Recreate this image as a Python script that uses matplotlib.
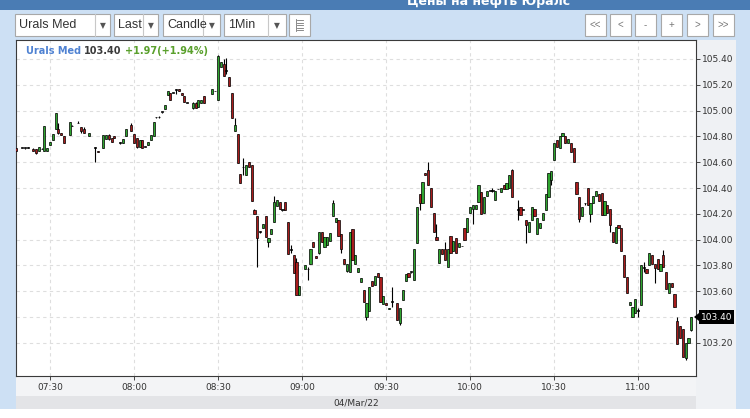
import matplotlib
matplotlib.use("Agg")
import matplotlib.pyplot as plt
from matplotlib.patches import Rectangle, Polygon

W, H = 750, 418

# one-minute candles, Urals Med, 04/Mar/22
times = [
    "07:18", "07:20", "07:21", "07:22", "07:24", "07:25", "07:26", "07:27", "07:28", "07:29",
    "07:30", "07:31", "07:32", "07:33", "07:34", "07:35", "07:37", "07:38", "07:40", "07:41",
    "07:42", "07:44", "07:46", "07:47", "07:49", "07:50", "07:51", "07:52", "07:53", "07:55",
    "07:56", "07:57", "07:59", "08:00", "08:01", "08:02", "08:03", "08:04", "08:05", "08:06",
    "08:07", "08:08", "08:09", "08:10", "08:11", "08:12", "08:13", "08:14", "08:15", "08:16",
    "08:17", "08:18", "08:19", "08:21", "08:22", "08:23", "08:24", "08:25", "08:28", "08:29",
    "08:30", "08:31", "08:32", "08:33", "08:34", "08:35", "08:36", "08:37", "08:38", "08:39",
    "08:40", "08:41", "08:42", "08:43", "08:44", "08:45", "08:46", "08:47", "08:48", "08:49",
    "08:50", "08:51", "08:52", "08:53", "08:54", "08:55", "08:56", "08:57", "08:58", "08:59",
    "09:01", "09:02", "09:03", "09:04", "09:05", "09:06", "09:07", "09:08", "09:09", "09:10",
    "09:11", "09:12", "09:13", "09:14", "09:15", "09:16", "09:17", "09:18", "09:19", "09:20",
    "09:21", "09:22", "09:23", "09:24", "09:25", "09:26", "09:27", "09:28", "09:29", "09:30",
    "09:31", "09:32", "09:34", "09:35", "09:36", "09:37", "09:38", "09:39", "09:40", "09:41",
    "09:42", "09:43", "09:44", "09:45", "09:46", "09:47", "09:48", "09:49", "09:50", "09:51",
    "09:52", "09:53", "09:54", "09:55", "09:56", "09:57", "09:58", "09:59", "10:00", "10:01",
    "10:02", "10:03", "10:04", "10:05", "10:06", "10:07", "10:08", "10:09", "10:10", "10:11",
    "10:12", "10:13", "10:14", "10:15", "10:17", "10:18", "10:19", "10:20", "10:21", "10:22",
    "10:23", "10:24", "10:25", "10:26", "10:27", "10:28", "10:29", "10:30", "10:31", "10:32",
    "10:33", "10:34", "10:35", "10:36", "10:37", "10:38", "10:39", "10:40", "10:41", "10:42",
    "10:43", "10:44", "10:45", "10:46", "10:47", "10:48", "10:49", "10:50", "10:51", "10:52",
    "10:53", "10:54", "10:55", "10:56", "10:57", "10:58", "10:59", "11:00", "11:01", "11:02",
    "11:03", "11:04", "11:05", "11:06", "11:07", "11:08", "11:09", "11:10", "11:11", "11:12",
    "11:13", "11:14", "11:15", "11:16", "11:17", "11:18", "11:19",
]
opens = [
    104.71, 104.71, 104.71, 104.71, 104.70, 104.70, 104.69, 104.70, 104.69, 104.69,
    104.73, 104.77, 104.86, 104.86, 104.83, 104.80, 104.81, 104.88, 104.90, 104.87,
    104.86, 104.80, 104.71, 104.69, 104.71, 104.78, 104.81, 104.79, 104.80, 104.75,
    104.75, 104.80, 104.89, 104.82, 104.79, 104.72, 104.77, 104.72, 104.73, 104.77,
    104.80, 104.95, 104.95, 104.99, 105.01, 105.12, 105.14, 105.14, 105.16, 105.17,
    105.14, 105.11, 105.06, 105.02, 105.06, 105.03, 105.06, 105.11, 105.13, 105.15,
    105.08, 105.34, 105.36, 105.31, 105.26, 105.14, 104.84, 104.82, 104.51, 104.56,
    104.50, 104.60, 104.58, 104.23, 104.18, 104.06, 104.09, 104.18, 103.98, 104.04,
    104.14, 104.26, 104.29, 104.23, 104.29, 104.14, 103.92, 103.88, 103.83, 103.57,
    103.77, 103.77, 103.81, 103.98, 103.87, 103.90, 104.06, 103.94, 103.96, 103.99,
    104.18, 104.14, 104.15, 104.04, 103.85, 103.76, 103.75, 104.08, 103.81, 103.75,
    103.67, 103.61, 103.40, 103.45, 103.68, 103.65, 103.74, 103.71, 103.50, 103.51,
    103.46, 103.52, 103.51, 103.35, 103.53, 103.68, 103.74, 103.75, 103.69, 103.97,
    104.35, 104.28, 104.52, 104.54, 104.40, 104.21, 104.02, 103.82, 103.93, 103.93,
    103.79, 104.03, 103.91, 104.01, 103.94, 103.95, 104.09, 104.06, 104.21, 104.24,
    104.24, 104.29, 104.37, 104.21, 104.34, 104.38, 104.38, 104.31, 104.39, 104.37,
    104.42, 104.39, 104.40, 104.54, 104.23, 104.25, 104.23, 104.15, 104.06, 104.15,
    104.24, 104.04, 104.09, 104.15, 104.23, 104.33, 104.46, 104.62, 104.77, 104.71,
    104.80, 104.80, 104.75, 104.75, 104.71, 104.45, 104.33, 104.18, 104.28, 104.40,
    104.20, 104.28, 104.34, 104.35, 104.36, 104.19, 104.27, 104.24, 104.06, 103.97,
    104.11, 104.09, 103.88, 103.71, 103.49, 103.40, 103.43, 103.45, 103.49, 103.78,
    103.77, 103.80, 103.88, 103.81, 103.85, 103.76, 103.88, 103.75, 103.59, 103.66,
    103.58, 103.37, 103.33, 103.31, 103.08, 103.20, 103.30,
]
highs = [
    104.71, 104.71, 104.71, 104.72, 104.71, 104.70, 104.72, 104.71, 104.88, 104.71,
    104.76, 104.82, 104.98, 104.90, 104.83, 104.80, 104.91, 104.89, 104.92, 104.87,
    104.87, 104.83, 104.72, 104.69, 104.81, 104.81, 104.82, 104.79, 104.80, 104.76,
    104.78, 104.86, 104.90, 104.82, 104.79, 104.77, 104.77, 104.72, 104.76, 104.81,
    104.91, 104.95, 104.96, 104.99, 105.04, 105.15, 105.14, 105.14, 105.17, 105.17,
    105.14, 105.11, 105.06, 105.07, 105.07, 105.08, 105.08, 105.11, 105.17, 105.15,
    105.43, 105.38, 105.40, 105.41, 105.26, 105.14, 104.94, 104.82, 104.51, 104.63,
    104.58, 104.60, 104.58, 104.24, 104.18, 104.07, 104.12, 104.18, 104.01, 104.08,
    104.34, 104.31, 104.29, 104.23, 104.29, 104.14, 103.96, 103.88, 103.86, 103.64,
    103.80, 103.79, 103.93, 103.98, 103.87, 104.06, 104.06, 104.02, 104.02, 104.05,
    104.31, 104.17, 104.15, 104.04, 103.85, 103.81, 104.06, 104.08, 103.88, 103.78,
    103.70, 103.61, 103.51, 103.63, 103.68, 103.72, 103.74, 103.71, 103.56, 103.51,
    103.47, 103.63, 103.51, 103.47, 103.61, 103.73, 103.74, 103.75, 103.93, 104.25,
    104.35, 104.45, 104.52, 104.60, 104.40, 104.21, 104.12, 103.93, 103.93, 103.98,
    103.93, 104.03, 103.99, 104.01, 103.97, 103.95, 104.09, 104.17, 104.25, 104.27,
    104.27, 104.42, 104.37, 104.33, 104.38, 104.38, 104.40, 104.38, 104.39, 104.40,
    104.42, 104.44, 104.50, 104.55, 104.31, 104.25, 104.23, 104.15, 104.14, 104.25,
    104.24, 104.17, 104.13, 104.21, 104.35, 104.52, 104.53, 104.75, 104.77, 104.80,
    104.83, 104.80, 104.78, 104.75, 104.71, 104.45, 104.33, 104.25, 104.28, 104.40,
    104.28, 104.34, 104.38, 104.35, 104.36, 104.30, 104.27, 104.24, 104.06, 104.10,
    104.11, 104.09, 103.88, 103.71, 103.52, 103.48, 103.54, 103.47, 103.80, 103.83,
    103.77, 103.90, 103.88, 103.81, 103.85, 103.81, 103.92, 103.75, 103.66, 103.66,
    103.58, 103.40, 103.33, 103.31, 103.20, 103.24, 103.40,
]
lows = [
    104.69, 104.71, 104.70, 104.71, 104.69, 104.66, 104.69, 104.70, 104.69, 104.69,
    104.73, 104.77, 104.86, 104.82, 104.81, 104.75, 104.81, 104.88, 104.90, 104.83,
    104.83, 104.80, 104.60, 104.68, 104.71, 104.78, 104.77, 104.76, 104.79, 104.74,
    104.75, 104.80, 104.84, 104.75, 104.71, 104.72, 104.71, 104.72, 104.73, 104.77,
    104.80, 104.94, 104.94, 104.98, 105.01, 105.12, 105.08, 105.14, 105.13, 105.15,
    105.12, 105.07, 105.06, 105.01, 105.02, 105.03, 105.06, 105.06, 105.13, 105.15,
    105.08, 105.34, 105.27, 105.28, 105.19, 104.94, 104.84, 104.59, 104.44, 104.50,
    104.50, 104.56, 104.30, 104.20, 103.79, 104.05, 104.09, 104.02, 103.94, 104.04,
    104.14, 104.26, 104.24, 104.22, 104.23, 103.89, 103.90, 103.74, 103.57, 103.57,
    103.77, 103.69, 103.81, 103.94, 103.86, 103.89, 103.98, 103.94, 103.96, 103.99,
    104.18, 104.14, 104.03, 103.90, 103.81, 103.75, 103.75, 103.84, 103.81, 103.75,
    103.67, 103.52, 103.38, 103.45, 103.64, 103.65, 103.71, 103.52, 103.50, 103.49,
    103.46, 103.48, 103.38, 103.34, 103.53, 103.68, 103.71, 103.74, 103.69, 103.97,
    104.23, 104.28, 104.50, 104.42, 104.25, 104.06, 104.00, 103.82, 103.89, 103.84,
    103.79, 103.90, 103.91, 103.90, 103.94, 103.95, 104.00, 104.06, 104.21, 104.12,
    104.24, 104.29, 104.20, 104.21, 104.34, 104.38, 104.37, 104.31, 104.39, 104.37,
    104.39, 104.39, 104.40, 104.33, 104.15, 104.19, 104.23, 103.97, 104.06, 104.15,
    104.18, 104.04, 104.09, 104.15, 104.23, 104.33, 104.42, 104.62, 104.72, 104.71,
    104.80, 104.75, 104.75, 104.68, 104.60, 104.35, 104.14, 104.18, 104.27, 104.27,
    104.14, 104.28, 104.34, 104.30, 104.19, 104.19, 104.21, 104.06, 103.98, 103.97,
    104.09, 103.91, 103.71, 103.59, 103.49, 103.40, 103.43, 103.40, 103.49, 103.75,
    103.74, 103.80, 103.81, 103.66, 103.77, 103.76, 103.79, 103.62, 103.59, 103.63,
    103.48, 103.19, 103.24, 103.09, 103.07, 103.20, 103.29,
]
closes = [
    104.69, 104.71, 104.71, 104.71, 104.69, 104.67, 104.72, 104.70, 104.88, 104.71,
    104.76, 104.82, 104.98, 104.83, 104.81, 104.75, 104.91, 104.88, 104.90, 104.84,
    104.83, 104.83, 104.71, 104.68, 104.81, 104.81, 104.78, 104.76, 104.79, 104.75,
    104.78, 104.86, 104.84, 104.75, 104.72, 104.77, 104.71, 104.72, 104.76, 104.81,
    104.91, 104.95, 104.95, 104.99, 105.04, 105.15, 105.08, 105.14, 105.16, 105.15,
    105.12, 105.07, 105.06, 105.06, 105.02, 105.08, 105.08, 105.06, 105.17, 105.15,
    105.42, 105.38, 105.27, 105.31, 105.19, 104.94, 104.89, 104.59, 104.44, 104.56,
    104.58, 104.56, 104.30, 104.20, 104.01, 104.06, 104.12, 104.02, 104.01, 104.08,
    104.29, 104.31, 104.24, 104.23, 104.23, 103.89, 103.92, 103.74, 103.57, 103.64,
    103.80, 103.77, 103.93, 103.94, 103.86, 104.06, 103.98, 104.02, 104.02, 104.05,
    104.28, 104.17, 104.03, 103.93, 103.81, 103.81, 104.06, 103.84, 103.88, 103.78,
    103.70, 103.52, 103.51, 103.63, 103.64, 103.72, 103.71, 103.52, 103.56, 103.49,
    103.47, 103.52, 103.38, 103.47, 103.61, 103.73, 103.71, 103.75, 103.93, 104.25,
    104.28, 104.45, 104.50, 104.42, 104.25, 104.06, 104.00, 103.93, 103.89, 103.84,
    103.93, 103.90, 103.99, 103.90, 103.97, 103.95, 104.00, 104.17, 104.25, 104.27,
    104.27, 104.42, 104.20, 104.33, 104.38, 104.38, 104.38, 104.38, 104.39, 104.40,
    104.39, 104.44, 104.50, 104.33, 104.23, 104.19, 104.23, 104.11, 104.14, 104.25,
    104.18, 104.17, 104.13, 104.21, 104.35, 104.52, 104.53, 104.75, 104.72, 104.80,
    104.83, 104.75, 104.78, 104.68, 104.60, 104.35, 104.16, 104.25, 104.28, 104.27,
    104.28, 104.34, 104.38, 104.30, 104.19, 104.30, 104.21, 104.11, 103.98, 104.10,
    104.09, 103.91, 103.71, 103.59, 103.52, 103.48, 103.54, 103.45, 103.80, 103.78,
    103.74, 103.90, 103.81, 103.78, 103.77, 103.81, 103.79, 103.62, 103.66, 103.63,
    103.48, 103.19, 103.24, 103.09, 103.20, 103.24, 103.40,
]

symbol = "Urals Med"
last_price = 103.40
change_text = "+1.97(+1.94%)"
date_label = "04/Mar/22"
header_text = "Цены на нефть Юралс"
y_ticks = [103.20, 103.40, 103.60, 103.80, 104.00, 104.20, 104.40, 104.60,
           104.80, 105.00, 105.20, 105.40]
x_tick_labels = ["07:30", "08:00", "08:30", "09:00", "09:30", "10:00", "10:30", "11:00"]
dropdowns = [("Urals Med", 15, 110, 95), ("Last", 114, 158, 143),
             ("Candle", 163, 220, 203), ("1Min", 224, 286, 268)]
nav_buttons = ["<<", "<", "-", "+", ">", ">>"]
nav_x = [585, 610, 635, 661, 687, 713]

UI = ["Liberation Sans", "DejaVu Sans"]
NARROW = ["Liberation Sans Narrow", "DejaVu Sans"]


def to_min(s):
    h, m = s.split(":")
    return int(h) * 60 + int(m) - 420  # minutes after 07:00


xs = [to_min(t) for t in times]

fig = plt.figure(figsize=(W / 100, H / 100), dpi=100)

# background frame drawn in pixel coordinates
bg = fig.add_axes([0, 0, 1, 1], zorder=0)
bg.set_xlim(0, W)
bg.set_ylim(H, 0)
bg.axis("off")
bg.add_patch(Rectangle((0, 0), W, H, fc="#cde0f4", ec="none"))
bg.add_patch(Rectangle((0, 0), W, 10, fc="#4a7cb4", ec="none"))
bg.add_patch(Rectangle((0, 409), W, 9, fc="white", ec="none"))
bg.add_patch(Rectangle((696, 40), 40, 369, fc="#eff1f4", ec="none"))
bg.add_patch(Rectangle((16, 376), 680, 20, fc="#f3f4f6", ec="none"))
bg.add_patch(Rectangle((16, 396), 680, 13, fc="#e3e4e7", ec="none"))
bg.text(356, 402.5, date_label, ha="center", va="center", fontsize=6.5,
        family=NARROW, color="#333333")
# page header, only its lower part is inside the picture
bg.text(489, 4.5, header_text, ha="center", va="baseline", fontsize=9,
        fontweight="bold", color="white")

# toolbar
for label, x0, x1, xd in dropdowns:
    bg.add_patch(Rectangle((x0, 14), x1 - x0, 22, fc="white", ec="#a8a8a8", lw=0.8))
    bg.plot([xd, xd], [14, 36], color="#c8c8c8", lw=0.8)
    bg.text(x0 + 4, 25.5, label, ha="left", va="center", fontsize=9,
            family=UI, color="#333333")
    bg.text((xd + x1) / 2, 25.5, "\u25bc", ha="center", va="center",
            fontsize=5.5, color="#555555")
bg.add_patch(Rectangle((289, 14), 21, 22, fc="white", ec="#a8a8a8", lw=0.8))
bg.plot([296, 296], [19, 31], color="#777777", lw=0.6)
for yy in [20, 22.5, 25, 27.5, 30]:
    bg.plot([297, 303], [yy, yy], color="#777777", lw=0.6)
for lab, bx in zip(nav_buttons, nav_x):
    bg.add_patch(Rectangle((bx, 14), 21, 22, fc="white", ec="#a8a8a8", lw=0.8))
    bg.text(bx + 10.5, 25, lab, ha="center", va="center", fontsize=7,
            family=UI, color="#777777")

# price chart
ax = fig.add_axes([16 / W, 1 - 376 / H, 680 / W, 336 / H], zorder=1)
ax.set_facecolor("white")
ax.set_xlim(17.86, 260.7)
ax.set_ylim(102.943, 105.547)

for x, o, hi, lo, c in zip(xs, opens, highs, lows, closes):
    ax.vlines(x, lo, hi, color="black", lw=0.8, zorder=2)
    col = "#2fa52f" if c > o else ("#a81c1c" if c < o else "black")
    ax.bar(x, max(abs(c - o), 0.004), bottom=min(o, c), width=0.78,
           color=col, edgecolor="black", linewidth=0.5, zorder=3)

ax.set_xticks([30 + 30 * i for i in range(len(x_tick_labels))])
ax.set_xticklabels(x_tick_labels)
ax.set_yticks(y_ticks)
ax.set_yticklabels([f"{v:.2f}" for v in y_ticks])
ax.yaxis.tick_right()
ax.grid(True, color="#dedede", ls=(0, (3, 3)), lw=0.8, zorder=0)
ax.tick_params(axis="both", length=3, width=0.7, color="#444444",
               labelsize=6.5, labelcolor="#333333")
ax.tick_params(axis="x", pad=2)
ax.tick_params(axis="y", pad=1)
for lab in ax.get_xticklabels() + ax.get_yticklabels():
    lab.set_family(NARROW)
for sp in ax.spines.values():
    sp.set_color("#3a3a3a")
    sp.set_linewidth(0.8)

# overlay: title line and last price marker
ov = fig.add_axes([0, 0, 1, 1], zorder=5)
ov.set_xlim(0, W)
ov.set_ylim(H, 0)
ov.axis("off")
ov.patch.set_alpha(0)

renderer = fig.canvas.get_renderer()
xpos = 26
for txt, col in [(symbol, "#4f82d2"), (f"{last_price:.2f}", "#3a3a3a"),
                 (change_text, "#5aa02c")]:
    t = ov.text(xpos, 51.5, txt, ha="left", va="center", fontsize=7,
                fontweight="bold", color=col)
    bb = t.get_window_extent(renderer)
    xpos += bb.width + 3

py = 59 + (105.40 - last_price) * 129
ov.add_patch(Rectangle((699, py - 7), 35, 14, fc="black", ec="none"))
ov.add_patch(Polygon([[694, py], [699, py - 4], [699, py + 4]], fc="black", ec="none"))
ov.text(716.5, py, f"{last_price:.2f}", ha="center", va="center", fontsize=6.5,
        family=NARROW, color="white")

fig.savefig("out.png", dpi=100)
